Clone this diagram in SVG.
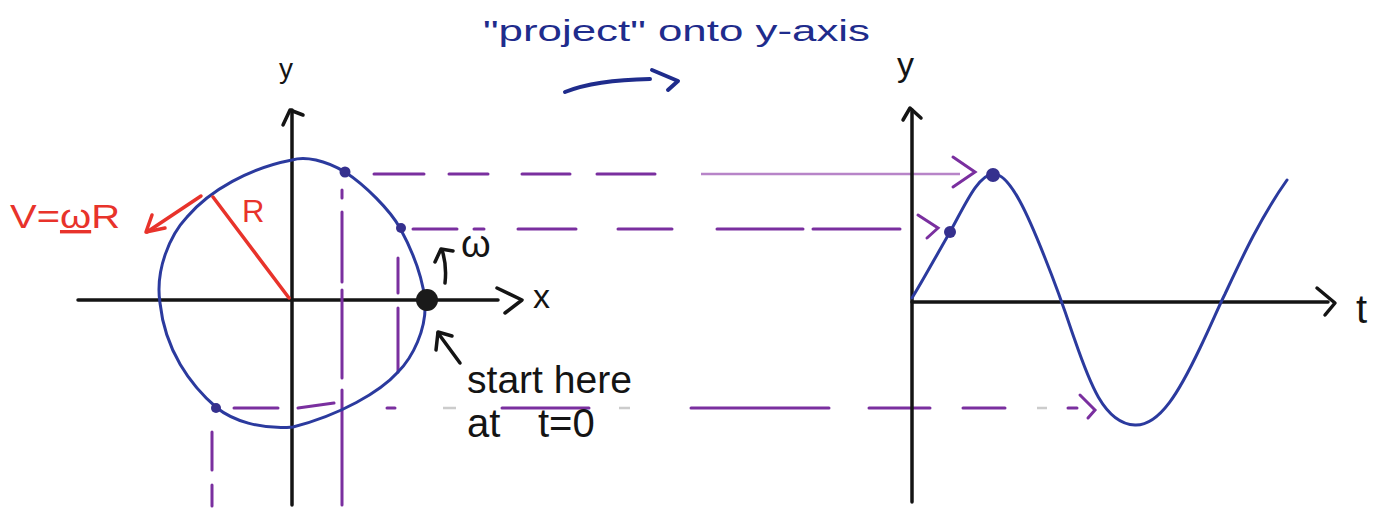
<svg xmlns="http://www.w3.org/2000/svg" width="1398" height="508" viewBox="0 0 1398 508">
<style>
.ax{stroke:#141414;stroke-width:3.5;fill:none;stroke-linecap:round;stroke-linejoin:round}
.blue{stroke:#2b3a9e;stroke-width:3;fill:none;stroke-linecap:round}
.pur{stroke:#7a2f9f;stroke-width:3;fill:none;stroke-linecap:round}
.purl{stroke:#b784c8;stroke-width:2.5;fill:none}
.red{stroke:#e8332b;stroke-width:3.5;fill:none;stroke-linecap:round;stroke-linejoin:round}
.nav{stroke:#1f2c8c;stroke-width:4;fill:none;stroke-linecap:round;stroke-linejoin:round}
.dot{fill:#35308e}
text{font-family:"Liberation Sans",Arial,sans-serif}
.tk{fill:#141414}
.tr{fill:#e8332b}
.tn{fill:#1f2c8c}
</style>
<rect width="1398" height="508" fill="#ffffff"/>

<g id="title">
<text class="tn" x="483" y="41" font-size="30" textLength="387" lengthAdjust="spacingAndGlyphs">"project" onto y-axis</text>
<path class="nav" d="M565,92 Q595,80 650,79"/>
<path class="nav" d="M652,70 L678,81 L668,90"/>
</g>

<g id="left-axes">
<line class="ax" x1="78" y1="300" x2="498" y2="300"/>
<path class="ax" d="M497,288 L522,300 L505,313"/>
<line class="ax" x1="292" y1="505" x2="292" y2="110"/>
<path class="ax" d="M283,125 L290,110 L303,115"/>
<text class="tk" x="279" y="78" font-size="28">y</text>
<text class="tk" x="533" y="308" font-size="34">x</text>
</g>

<g id="projections">
<g class="pur">
<path d="M374,174 H424 M449,174 H488 M522,174 H570 M597,174 H655"/>
<path d="M413,229 H457 M474,229 H484 M518,229 H576 M618,229 H672 M717,229 H803 M813,229 H900"/>
<path d="M234,408 H278 M298,408 L334,403 M387,408 H395 M502,408 H589 M691,408 H829 M869,408 H930 M963,408 H1005 M1068,408 H1077"/>
<path d="M342,190 V198 M342,212 V282 M342,290 V378 M342,390 V505"/>
<path d="M398,258 V293 M398,308 V372"/>
<path d="M212,432 V470 M212,485 V506"/>
</g>
<path class="purl" d="M701,174 H960"/>
<path d="M443,408 H456 M619,408 H630 M1037,408 H1047" stroke="#cccccc" stroke-width="2.5" fill="none"/>
<path class="pur" d="M953,157 L975,172 L953,187"/>
<path class="pur" d="M918,215 L938,228 L927,238"/>
<path class="pur" d="M1080,395 L1095,410 L1088,418"/>
</g>

<g id="circle">
<path class="blue" d="M292,160 C305,156 325,160 345,172 C365,185 390,210 400,228 C412,250 422,275 425,300 C427,330 412,358 398,372 C380,392 340,415 293,427 C260,430 232,420 217,408 C190,385 165,350 160,303 C155,270 170,235 187,217 C210,190 250,168 292,160 Z"/>
<circle class="dot" cx="345" cy="172" r="5.5"/>
<circle class="dot" cx="401" cy="228" r="5"/>
<circle class="dot" cx="216" cy="408" r="5"/>
<circle cx="427" cy="300" r="11" fill="#1a1a1a"/>
</g>

<g id="radius">
<path class="red" d="M213,197 L289,298"/>
<text class="tr" x="242" y="222" font-size="31">R</text>
</g>

<g id="velocity">
<path class="red" d="M201,196 L147,232"/>
<path class="red" d="M152,215 L146,232 L165,228"/>
<text class="tr" x="10" y="228" font-size="34" textLength="110" lengthAdjust="spacingAndGlyphs">V=<tspan text-decoration="underline">ω</tspan>R</text>
</g>

<g id="omega">
<path class="ax" d="M445,283 Q447,265 442,250"/>
<path class="ax" d="M435,262 L441,249 L453,251"/>
<text class="tk" x="461" y="257" font-size="38">ω</text>
</g>

<g id="start">
<path class="ax" d="M460,363 L438,333"/>
<path class="ax" d="M436,350 L438,332 L452,336"/>
<text class="tk" x="467" y="393" font-size="38" textLength="165" lengthAdjust="spacingAndGlyphs">start here</text>
<text class="tk" y="437" font-size="40"><tspan x="467">at</tspan><tspan x="538">t=0</tspan></text>
</g>

<g id="right-axes">
<line class="ax" x1="912" y1="502" x2="912" y2="110"/>
<path class="ax" d="M903,120 L910,108 L921,118"/>
<line class="ax" x1="912" y1="302" x2="1328" y2="302"/>
<path class="ax" d="M1317,288 L1335,303 L1325,315"/>
<text class="tk" x="897" y="76" font-size="34">y</text>
<text class="tk" x="1356" y="323" font-size="40">t</text>
</g>

<g id="sine">
<path class="blue" d="M912,298 C922,282 935,258 950,232 C965,205 978,175 993,174 C1010,172 1030,220 1045,258 C1055,283 1063,305 1072,332 C1087,375 1102,424 1135,425 C1160,426 1180,390 1200,348 C1212,323 1218,308 1225,294 C1240,262 1260,218 1287,180"/>
<circle class="dot" cx="950" cy="232" r="6"/>
<circle class="dot" cx="993" cy="175" r="7"/>
</g>
</svg>
